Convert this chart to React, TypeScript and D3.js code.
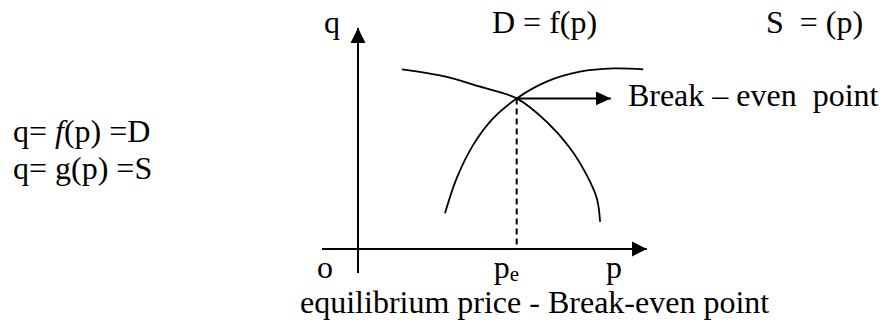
import React, { useEffect } from 'react';
import * as d3 from 'd3';

// Demand curve D = f(p): sampled points (p, q)
const demandP = [14.6, 29.6, 40.7, 52.9, 62.9, 70.7, 76.2, 79.6, 80.7];
const demandQ = [59.9, 57.4, 54.1, 50.2, 42.4, 33.6, 24.7, 16.9, 9.1];
// Supply curve S = g(p): sampled points (p, q)
const supplyP = [29.0, 32.9, 38.4, 45.1, 52.9, 62.9, 74.0, 85.1, 95.1];
const supplyQ = [11.9, 23.6, 34.7, 43.6, 50.2, 55.8, 59.1, 60.2, 59.9];
// Break-even (equilibrium) point
const equilibriumP = [52.9];
const equilibriumQ = [50.2];
const breakArrowEndP = [84.3];
// Axis extents
const pAxisExtent = [-12, 96.3];
const qAxisExtent = [-8, 73.7];

const W = 882;
const H = 325;
const FONT = "'Liberation Serif', 'Times New Roman', Times, serif";

export default function App() {
  useEffect(() => {
    document.body.style.margin = '0';
  }, []);

  const x = d3.scaleLinear().domain([0, 100]).range([358, 658]);
  const y = d3.scaleLinear().domain([0, 80]).range([249, 9]);

  const line = d3
    .line<[number, number]>()
    .x((d) => x(d[0]))
    .y((d) => y(d[1]))
    .curve(d3.curveCatmullRom.alpha(0.5));

  const demand: [number, number][] = demandP.map((p, i) => [p, demandQ[i]]);
  const supply: [number, number][] = supplyP.map((p, i) => [p, supplyQ[i]]);

  const ex = x(equilibriumP[0]);
  const ey = y(equilibriumQ[0]);
  const ox = x(0);
  const oy = y(0);

  const textStyle: React.CSSProperties = { whiteSpace: 'pre', fontFamily: FONT, fontSize: '32px' };

  return (
    <svg
      width={W}
      height={H}
      viewBox={`0 0 ${W} ${H}`}
      style={{ position: 'absolute', left: 0, top: 0, background: '#fff', fontFamily: FONT }}
      fill="#000"
    >
      <defs>
        <marker
          id="axisHead"
          markerUnits="userSpaceOnUse"
          viewBox="0 -8 15 16"
          refX={15}
          refY={0}
          markerWidth={15}
          markerHeight={16}
          orient="auto"
        >
          <path d="M0,-7.5L15,0L0,7.5Z" fill="#000" />
        </marker>
        <marker
          id="breakHead"
          markerUnits="userSpaceOnUse"
          viewBox="0 -8 15 16"
          refX={15}
          refY={0}
          markerWidth={15}
          markerHeight={16}
          orient="auto"
        >
          <path d="M0,-7L15,0L0,7Z" fill="#000" />
        </marker>
      </defs>

      {/* axes */}
      <line
        x1={ox}
        y1={y(qAxisExtent[0])}
        x2={ox}
        y2={y(qAxisExtent[1])}
        stroke="#000"
        strokeWidth={2}
        markerEnd="url(#axisHead)"
      />
      <line
        x1={x(pAxisExtent[0])}
        y1={oy}
        x2={x(pAxisExtent[1])}
        y2={oy}
        stroke="#000"
        strokeWidth={2}
        markerEnd="url(#axisHead)"
      />

      {/* curves */}
      <path d={line(demand) || ''} fill="none" stroke="#000" strokeWidth={1.8} />
      <path d={line(supply) || ''} fill="none" stroke="#000" strokeWidth={1.8} />

      {/* dashed drop line */}
      <line x1={ex} y1={ey} x2={ex} y2={oy} stroke="#000" strokeWidth={2} strokeDasharray="6,4" />

      {/* break-even arrow */}
      <line
        x1={ex}
        y1={ey}
        x2={x(breakArrowEndP[0])}
        y2={ey}
        stroke="#000"
        strokeWidth={2}
        markerEnd="url(#breakHead)"
      />

      {/* labels */}
      <text x={ox - 34} y={33} style={textStyle}>q</text>
      <text x={492} y={33} style={textStyle}>D = f(p)</text>
      <text x={766} y={33} style={textStyle}>{'S  = (p)'}</text>
      <text x={x(breakArrowEndP[0]) + 17} y={ey + 8} style={textStyle}>{'Break – even  point'}</text>
      <text x={ox - 41} y={oy + 29} style={textStyle}>o</text>
      <text x={ex - 23} y={oy + 29} style={textStyle}>
        p<tspan style={{ fontSize: '21px' }} dy={3}>e</tspan>
      </text>
      <text x={606} y={oy + 29} style={textStyle}>p</text>
      <text x={300} y={313} style={textStyle}>equilibrium price - Break-even point</text>

      <text x={13} y={142} style={textStyle}>
        {'q= '}<tspan style={{ fontStyle: 'italic' }}>f</tspan>{'(p) =D'}
      </text>
      <text x={13} y={179} style={textStyle}>q= g(p) =S</text>
    </svg>
  );
}
